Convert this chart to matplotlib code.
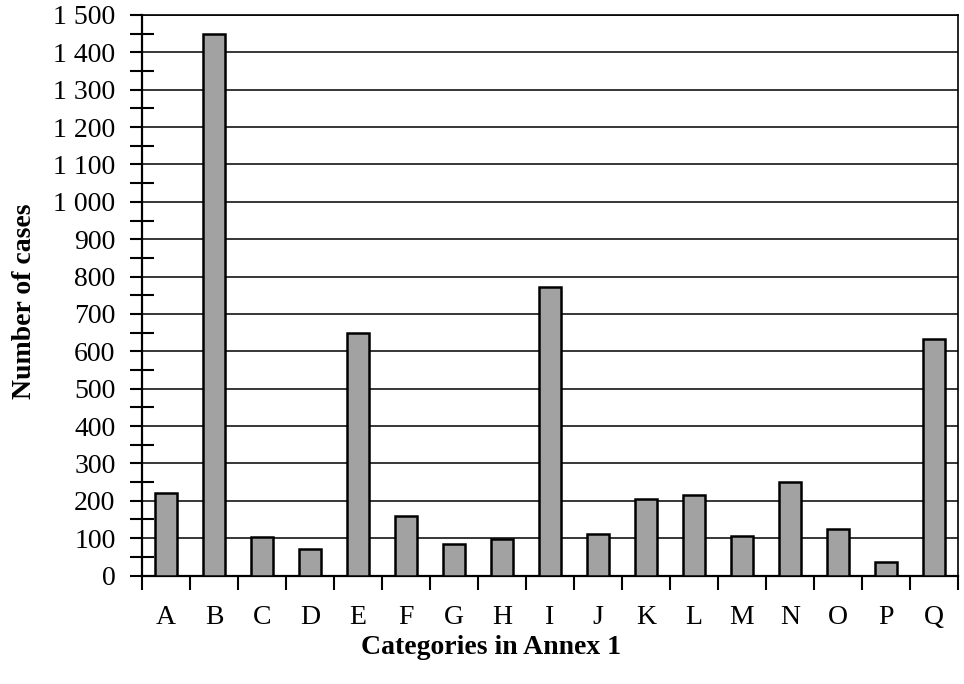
import matplotlib
matplotlib.use("Agg")
import matplotlib.pyplot as plt
from matplotlib.ticker import MultipleLocator, FuncFormatter

categories = ["A", "B", "C", "D", "E", "F", "G", "H", "I", "J",
              "K", "L", "M", "N", "O", "P", "Q"]
cases = [220, 1450, 104, 72, 649, 158, 85, 97, 772, 111,
         205, 216, 107, 249, 124, 35, 634]

plt.rcParams["font.family"] = ["Liberation Serif", "DejaVu Serif"]

fig = plt.figure(figsize=(9.64, 6.84), dpi=100)
ax = fig.add_axes([142 / 964, 1 - 575.5 / 684, (958 - 142) / 964, (575.5 - 15) / 684])

x = list(range(len(categories)))
ax.bar(x, cases, width=0.44, color="#a2a2a2", edgecolor="black", linewidth=1.8, zorder=3)

ax.set_xlim(-0.5, len(categories) - 0.5)
ax.set_ylim(0, 1500)

ax.yaxis.set_major_locator(MultipleLocator(100))
ax.yaxis.set_minor_locator(MultipleLocator(50))
ax.yaxis.set_major_formatter(FuncFormatter(lambda v, p: f"{int(v):,}".replace(",", " ")))
ax.grid(axis="y", which="major", color="black", linewidth=1.1, zorder=1)

ax.set_xticks([i - 0.5 for i in range(len(categories) + 1)], minor=False)
ax.set_xticklabels([])
ax.set_xticks(x, minor=True)
ax.set_xticklabels(categories, minor=True, fontsize=20)
ax.tick_params(axis="x", which="major", direction="out", length=10, width=1.5)
ax.tick_params(axis="x", which="minor", length=0, pad=21)

ax.tick_params(axis="y", which="major", direction="out", length=9, width=1.5, labelsize=20, pad=10)
# minor y ticks cross the axis line
ax.tick_params(axis="y", which="minor", direction="inout", length=17, width=1.5)

for side in ("left", "bottom"):
    ax.spines[side].set_linewidth(1.6)
for side in ("right", "top"):
    ax.spines[side].set_linewidth(1.2)

fig.text(25 / 964, 1 - 301 / 684, "Number of cases", rotation=90, ha="center", va="center",
         fontsize=20, fontweight="bold")
fig.text(491 / 964, 1 - 648 / 684, "Categories in Annex 1", ha="center", va="center",
         fontsize=20, fontweight="bold")

fig.savefig("out.png", dpi=100)
